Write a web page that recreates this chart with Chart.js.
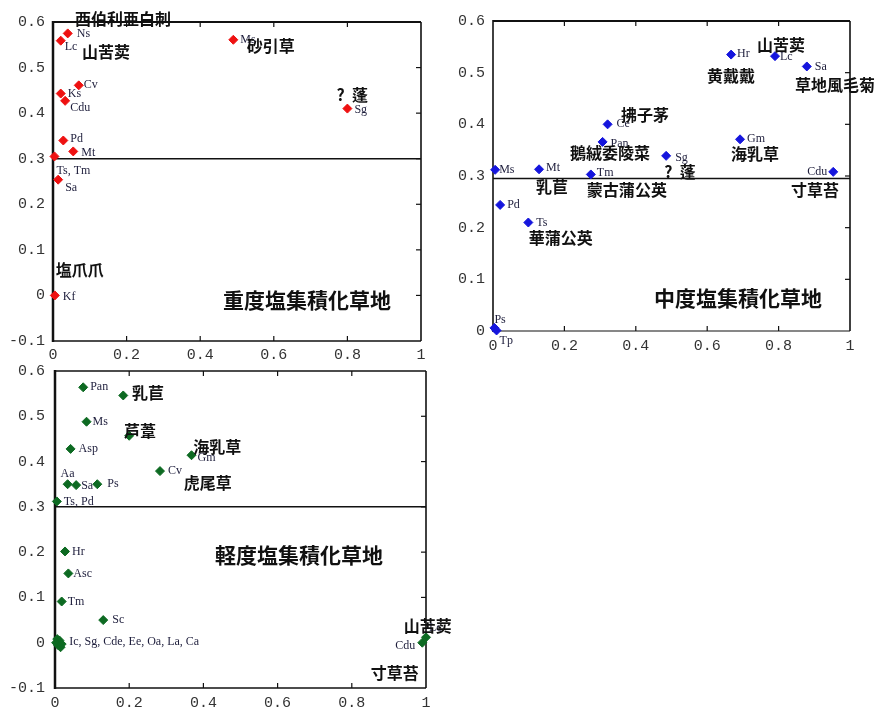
<!DOCTYPE html>
<html><head><meta charset="utf-8">
<script src="https://cdn.jsdelivr.net/npm/chart.js@4"></script>
<style>
html,body{margin:0;padding:0;background:#fff;}
body{width:885px;height:711px;position:relative;overflow:hidden;}
canvas{position:absolute;}
</style></head><body>
<canvas id="heavy" width="440" height="365" style="left:0;top:0"></canvas>
<canvas id="medium" width="445" height="350" style="left:440px;top:0"></canvas>
<canvas id="light" width="470" height="359" style="left:0;top:352px"></canvas>
<script>
// ---- tick labels ----
const xTickLabels = ['0', '0.2', '0.4', '0.6', '0.8', '1'];
const yTickLabelsFull = ['-0.1', '0', '0.1', '0.2', '0.3', '0.4', '0.5', '0.6'];
const yTickLabelsPos = ['0', '0.1', '0.2', '0.3', '0.4', '0.5', '0.6'];

// ---- 重度塩集積化草地 ----
const heavyCodes = ['Ns', 'Lc', 'Ms', 'Cv', 'Ks', 'Cdu', 'Sg', 'Pd', 'Mt', 'Ts, Tm', 'Sa', 'Kf'];
const heavyX = [0.04, 0.021, 0.49, 0.07, 0.021, 0.033, 0.80, 0.028, 0.055, 0.004, 0.014, 0.005];
const heavyY = [0.575, 0.559, 0.561, 0.461, 0.443, 0.427, 0.41, 0.34, 0.316, 0.305, 0.254, 0.0];
const heavyLimit = 0.3;

// ---- 中度塩集積化草地 ----
const mediumCodes = ['Hr', 'Lc', 'Sa', 'Ce', 'Pan', 'Sg', 'Gm', 'Ms', 'Mt', 'Tm', 'Cdu', 'Pd', 'Ts', 'Ps', 'Tp'];
const mediumX = [0.667, 0.79, 0.879, 0.321, 0.307, 0.485, 0.692, 0.006, 0.129, 0.274, 0.953, 0.02, 0.099, 0.004, 0.01];
const mediumY = [0.535, 0.532, 0.512, 0.40, 0.366, 0.339, 0.371, 0.312, 0.313, 0.303, 0.308, 0.244, 0.21, 0.006, 0.001];
const mediumLimit = 0.295;

// ---- 軽度塩集積化草地 ----
const lightCodes = ['Pan', '', 'Ms', '', 'Asp', 'Gm', 'Cv', 'Aa', 'Sa', 'Ps', 'Ts, Pd', 'Hr', 'Asc', 'Tm', 'Sc',
  'Ic, Sg, Cde, Ee, Oa, La, Ca', '', '', '', '', '', '', 'Lc', 'Cdu'];
const lightX = [0.076, 0.184, 0.085, 0.2, 0.042, 0.368, 0.283, 0.034, 0.057, 0.114, 0.005, 0.027, 0.036, 0.018, 0.13,
  0.006, 0.01, 0.008, 0.015, 0.012, 0.003, 0.018, 1.0, 0.99];
const lightY = [0.564, 0.546, 0.488, 0.457, 0.428, 0.414, 0.379, 0.35, 0.348, 0.35, 0.312, 0.2015, 0.153, 0.091, 0.05,
  0.008, 0.002, -0.005, -0.01, 0.005, 0.0, -0.003, 0.012, 0.0];
const lightLimit = 0.3;

// ---- species names (written in data coordinates) ----
const heavyNames = [
  ['西伯利亜白刺', 0.19, 0.607], ['山苦荬', 0.144, 0.534], ['砂引草', 0.592, 0.547],
  ['?  蓬', 0.813, 0.441], ['塩爪爪', 0.073, 0.055]
];
const mediumNames = [
  ['山苦荬', 0.807, 0.553], ['黄戴戴', 0.667, 0.494], ['草地風毛菊', 0.958, 0.476],
  ['拂子茅', 0.426, 0.418], ['鵝絨委陵菜', 0.328, 0.344], ['海乳草', 0.734, 0.343],
  ['?  蓬', 0.524, 0.308], ['乳苣', 0.165, 0.279], ['蒙古蒲公英', 0.375, 0.273],
  ['寸草苔', 0.902, 0.273], ['華蒲公英', 0.19, 0.18]
];
const lightNames = [
  ['乳苣', 0.251, 0.552], ['芦葦', 0.229, 0.467], ['海乳草', 0.437, 0.433],
  ['虎尾草', 0.412, 0.352], ['山苦荬', 1.005, 0.037], ['寸草苔', 0.916, -0.067]
];
const heavyTitle = ['重度塩集積化草地', 0.69, -0.011];
const mediumTitle = ['中度塩集積化草地', 0.686, 0.064];
const lightTitle = ['軽度塩集積化草地', 0.658, 0.193];

// code label offsets in pixels from each marker: [dx, dy, align]
const heavyOffsets = [[9,0],[4,6],[7,0],[5,-1],[7,0],[5,7],[7,1],[7,-2],[8,1],[2,14],[7,8],[8,1]];
const mediumOffsets = [[6,-1],[5,1],[8,0],[9,0],[8,2],[9,2],[7,0],[4,0],[7,-1],[6,-2],[-6,0,'right'],[7,0],[8,0],[0,-8],[3,10]];
const lightOffsets = [[7,0],[0,0],[6,0],[0,0],[8,0],[6,3],[8,0],[-7,-10],[5,1],[10,0],[7,0],[7,0],[5,0],[6,0],[9,0],
  [12,3],[0,0],[0,0],[0,0],[0,0],[0,0],[0,0],[3,-9],[-7,3,'right']];

const codeFont = '12px "Liberation Serif"';
const nameFont = 'bold 16px "Noto Sans CJK JP"';
const titleFont = 'bold 21px "Noto Sans CJK JP"';
const tickFont = {family: 'Liberation Mono', size: 15};

function toPoints(xs, ys) { return xs.map((x, i) => ({x: x, y: ys[i]})); }

// frame with inward tick marks on top, right and bottom
const framePlugin = {
  id: 'frame',
  beforeDatasetsDraw(chart, args, opts) {
    const {ctx, chartArea: a, scales: {x, y}} = chart;
    ctx.save();
    ctx.strokeStyle = '#111';
    const line = (w, x1, y1, x2, y2) => { ctx.lineWidth = w; ctx.beginPath(); ctx.moveTo(x1, y1); ctx.lineTo(x2, y2); ctx.stroke(); };
    line(opts.top, a.left, a.top, a.right, a.top);
    line(opts.right, a.right, a.top, a.right, a.bottom);
    line(opts.bottom, a.left, a.bottom, a.right, a.bottom);
    line(opts.left, a.left, a.top - 1, a.left, a.bottom + 1);
    x.ticks.forEach(t => {
      if (t.value <= x.min || t.value >= x.max) return;
      const px = x.getPixelForValue(t.value);
      line(1.2, px, a.top, px, a.top + 5);
      line(1.2, px, a.bottom, px, a.bottom - 5);
    });
    y.ticks.forEach(t => {
      if (t.value <= y.min || t.value >= y.max) return;
      const py = y.getPixelForValue(t.value);
      line(1.2, a.right, py, a.right - 5, py);
    });
    ctx.restore();
  }
};

// short species codes next to each marker
const codePlugin = {
  id: 'codes',
  afterDatasetsDraw(chart, args, opts) {
    const ctx = chart.ctx;
    const meta = chart.getDatasetMeta(0);
    ctx.save();
    ctx.font = codeFont;
    ctx.fillStyle = '#1e1e3c';
    ctx.textBaseline = 'middle';
    opts.codes.forEach((c, i) => {
      if (!c) return;
      const p = meta.data[i];
      const o = opts.offsets[i];
      ctx.textAlign = o[2] || 'left';
      ctx.fillText(c, p.x + o[0], p.y + o[1]);
    });
    ctx.restore();
  }
};

// full species names and the panel title
const namePlugin = {
  id: 'names',
  afterDraw(chart, args, opts) {
    const {ctx, scales: {x, y}} = chart;
    ctx.save();
    ctx.fillStyle = '#111';
    ctx.textAlign = 'center';
    ctx.textBaseline = 'middle';
    ctx.font = nameFont;
    opts.names.forEach(n => ctx.fillText(n[0], x.getPixelForValue(n[1]), y.getPixelForValue(n[2])));
    ctx.font = titleFont;
    const t = opts.title;
    ctx.fillText(t[0], x.getPixelForValue(t[1]), y.getPixelForValue(t[2]));
    ctx.restore();
  }
};

function makeChart(id, cfg) {
  const yLabels = cfg.yMin < 0 ? yTickLabelsFull : yTickLabelsPos;
  return new Chart(document.getElementById(id), {
    type: 'scatter',
    data: {
      datasets: [
        {
          data: toPoints(cfg.xs, cfg.ys),
          pointStyle: 'rectRot', pointRadius: 4.5, pointHoverRadius: 4.5,
          backgroundColor: cfg.color, borderColor: cfg.color, borderWidth: 1,
          clip: false
        },
        {
          data: [{x: 0, y: cfg.limit}, {x: 1, y: cfg.limit}],
          showLine: true, pointRadius: 0, borderColor: '#111', borderWidth: 1.5, clip: false
        }
      ]
    },
    options: {
      responsive: false, animation: false, devicePixelRatio: 1,
      layout: {padding: cfg.padding},
      plugins: {
        legend: {display: false}, tooltip: {enabled: false},
        frame: cfg.frame,
        codes: {codes: cfg.codes, offsets: cfg.offsets},
        names: {names: cfg.names, title: cfg.title}
      },
      scales: {
        x: {
          type: 'linear', min: 0, max: 1,
          grid: {display: false, drawTicks: false}, border: {display: false},
          ticks: {stepSize: 0.2, font: tickFont, color: '#333', padding: cfg.xPad, maxRotation: 0,
            callback: (v, i) => xTickLabels[i]},
          afterFit: s => { s.height = cfg.xHeight; }
        },
        y: {
          type: 'linear', min: cfg.yMin, max: 0.6,
          grid: {display: false, drawTicks: false}, border: {display: false},
          ticks: {stepSize: 0.1, font: tickFont, color: '#333', padding: cfg.yPad,
            callback: (v, i) => yLabels[i]},
          afterFit: s => { s.width = cfg.yWidth; }
        }
      }
    },
    plugins: [framePlugin, codePlugin, namePlugin]
  });
}

makeChart('heavy', {
  xs: heavyX, ys: heavyY, codes: heavyCodes, offsets: heavyOffsets, limit: heavyLimit,
  names: heavyNames, title: heavyTitle, color: '#ee1111', yMin: -0.1,
  padding: {top: 22, right: 19, left: 0, bottom: 0}, yWidth: 53, xHeight: 24, xPad: 5, yPad: 8,
  frame: {top: 2, right: 1.6, bottom: 1.6, left: 2.5}
});
makeChart('medium', {
  xs: mediumX, ys: mediumY, codes: mediumCodes, offsets: mediumOffsets, limit: mediumLimit,
  names: mediumNames, title: mediumTitle, color: '#1515dd', yMin: 0,
  padding: {top: 21, right: 35, left: 0, bottom: 0}, yWidth: 53, xHeight: 19, xPad: 6, yPad: 8,
  frame: {top: 2, right: 1.6, bottom: 1.2, left: 1.6}
});
makeChart('light', {
  xs: lightX, ys: lightY, codes: lightCodes, offsets: lightOffsets, limit: lightLimit,
  names: lightNames, title: lightTitle, color: '#0d6a22', yMin: -0.1,
  padding: {top: 15, right: 44, left: 0, bottom: 0}, yWidth: 55, xHeight: 23, xPad: 6, yPad: 10,
  frame: {top: 1.6, right: 1.6, bottom: 1.6, left: 2.5}
});
</script>
</body></html>
